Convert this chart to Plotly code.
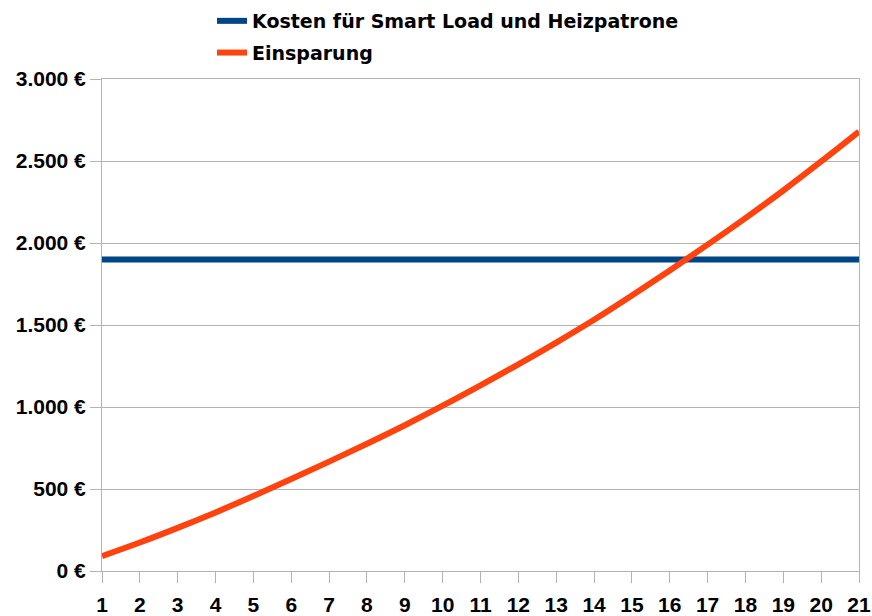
import plotly.graph_objects as go

years = list(range(1, 22))
kosten = [1900] * 21
einsparung = [91, 174, 263, 357, 457, 561, 667, 776, 889, 1008, 1132, 1260, 1393, 1532, 1680, 1833, 1990, 2152, 2320, 2497, 2679]

y_tickvals = [0, 500, 1000, 1500, 2000, 2500, 3000]
y_ticktext = ["0 €", "500 €", "1.000 €", "1.500 €", "2.000 €", "2.500 €", "3.000 €"]

grid = "#b3b3b3"
tickfont = dict(family="Liberation Sans", size=21, color="#000000", weight="bold")

W, H = 872, 616
L, R, T, B = 102, 13, 79, 45
plot_w = W - L - R
plot_h = H - T - B

fig = go.Figure()
fig.add_trace(go.Scatter(x=years, y=kosten, mode="lines", name="Kosten für Smart Load und Heizpatrone",
                         line=dict(color="#004586", width=6), legendgroup="a"))
fig.add_trace(go.Scatter(x=years, y=einsparung, mode="lines", name="Einsparung",
                         line=dict(color="#ff420e", width=6, shape="spline"), legendgroup="b"))

fig.update_layout(
    width=W, height=H,
    margin=dict(l=L, r=R, t=T, b=B, autoexpand=False),
    paper_bgcolor="white", plot_bgcolor="white",
    showlegend=True,
    legend=dict(
        x=(212 - L) / plot_w, y=1 + (T - 2) / plot_h, xanchor="left", yanchor="top",
        font=dict(family="DejaVu Sans", size=19, color="#000000", weight="bold"),
        tracegroupgap=4, bgcolor="rgba(0,0,0,0)",
    ),
    xaxis=dict(
        range=[1, 21], tickmode="array", tickvals=years, ticktext=[str(v) for v in years],
        showgrid=False, showline=True, linecolor=grid, linewidth=1, mirror=True,
        ticks="outside", ticklen=11, tickcolor=grid, tickwidth=1,
        tickfont=tickfont, zeroline=False, ticklabelstandoff=4,
    ),
    yaxis=dict(
        range=[0, 3000], tickmode="array", tickvals=y_tickvals, ticktext=y_ticktext,
        showgrid=True, gridcolor=grid, gridwidth=1,
        showline=True, linecolor=grid, linewidth=1, mirror=True,
        ticks="outside", ticklen=11, tickcolor=grid, tickwidth=1,
        tickfont=tickfont, zeroline=False,
    ),
)

fig.write_html(
    "out.html",
    config={"displayModeBar": False},
    post_script="document.body.style.margin='0';document.body.style.overflow='hidden';",
)
